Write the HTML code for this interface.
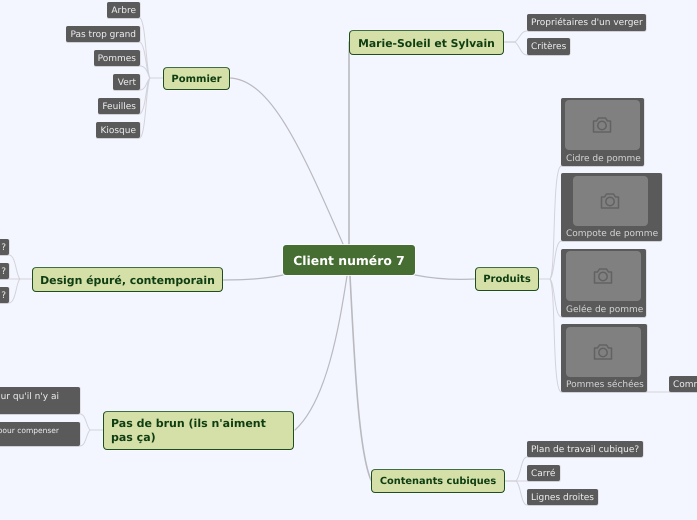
<!DOCTYPE html>
<html lang="fr"><head><meta charset="utf-8"><style>
html,body{margin:0;padding:0}
body{width:697px;height:520px;background:#f4f6ff;position:relative;overflow:hidden;font-family:"DejaVu Sans",sans-serif;text-rendering:geometricPrecision}
svg.l{position:absolute;left:0;top:0}
.n{position:absolute;box-sizing:border-box;white-space:nowrap}
.g{background:#d5dfa8;border:1px solid #1e4d1e;border-top-color:#3f6d45;border-radius:4px;color:#0e3d12;font-weight:bold;font-size:10px;line-height:14px;text-align:center;box-shadow:0 0 0 1px rgba(255,255,255,.2)}
.s{background:#5a5a5a;color:#ececec;font-size:9px;height:16px;line-height:18px;border-radius:2px;box-shadow:0 1px 0 #d0d0d8,1px 0 0 #e0e0e6;text-align:right;padding-right:4px}
.sr{text-align:left;padding:0 0 0 4px}
.i{background:#5a5a5a;border-radius:2px;box-shadow:0 1px 0 #d0d0d8,1px 0 0 #e0e0e6}
.p{position:absolute;background:#808080;border-radius:4px;width:75px;height:50px;top:2px}
.p svg{position:absolute;left:27px;top:15px}
.c{position:absolute;left:5px;bottom:0;color:#d4d4d4;font-size:9px;line-height:14px}
</style></head><body>
<svg class="l" width="697" height="520" fill="none" stroke-linecap="round">
<g stroke="#b9b9bf">
<path d="M230 78 C270 80 300 145 343 244" stroke-width="1.2"/>
<path d="M349 244 L349 42" stroke-width="1.6"/>
<path d="M283 275 C265 279 245 280 223 280" stroke-width="1.2"/>
<path d="M415 275 C435 279 455 280 475 279" stroke-width="1.2"/>
<path d="M347 276 C340 320 328 400 295 430" stroke-width="1.2"/>
<path d="M350 276 C354 350 358 450 371 480" stroke-width="1.6"/>
</g>
<g stroke="#d2d2da" stroke-width="1">
<path d="M163 78 L150 78"/>
<path d="M150 78 C146 72 146 22 140 18"/>
<path d="M150 78 C146 74 146 46 140 42"/>
<path d="M150 78 C147 72 146 66 140 66"/>
<path d="M150 78 C147 80 146 90 140 90"/>
<path d="M150 78 C146 82 146 110 140 114"/>
<path d="M150 78 C146 84 146 134 140 138"/>
<path d="M32 279 L20 279"/>
<path d="M20 279 C16 276 16 255 9 255"/>
<path d="M20 279 L9 279"/>
<path d="M20 279 C16 282 16 303 9 303"/>
<path d="M103 430 L90 430"/>
<path d="M90 430 C86 426 86 414 80 414"/>
<path d="M90 430 C86 434 86 446 80 446"/>
<path d="M504 42 L515 42" stroke-width="1.6"/>
<path d="M515 42 C520 38 521 31 527 31"/>
<path d="M515 42 C520 46 521 55 527 55"/>
<path d="M539 279 L550 279"/>
<path d="M550 279 C556 270 552 170 561 166"/>
<path d="M550 279 C555 274 554 243 561 241"/>
<path d="M550 279 C555 284 554 315 561 317"/>
<path d="M550 279 C556 290 552 388 561 392"/>
<path d="M647 392 L669 392"/>
<path d="M505 481 L516 481" stroke-width="1.6"/>
<path d="M516 481 C521 476 521 457 527 457"/>
<path d="M516 481 L560 481"/>
<path d="M516 481 C521 485 521 505 527 505"/>
</g>
</svg>

<div class="n" style="left:283px;top:245px;width:132px;height:30px;background:#466e32;border-radius:3px;color:#fff;font-weight:bold;font-size:12.4px;line-height:31px;text-align:center;box-shadow:0 0 0 1px rgba(255,255,255,.6)">Client numéro 7</div>

<div class="n g" style="left:163px;top:67px;width:67px;height:23px;line-height:23px">Pommier</div>
<div class="n g" style="left:32px;top:267px;width:191px;height:25px;line-height:25px;font-size:10.9px">Design épuré, contemporain</div>
<div class="n g" style="left:103px;top:411px;width:191px;height:39px;text-align:left;padding:5px 7px;font-size:11px;white-space:normal">Pas de brun (ils n'aiment pas ça)</div>
<div class="n g" style="left:349px;top:30px;width:155px;height:25px;line-height:25px;font-size:10.8px">Marie-Soleil et Sylvain</div>
<div class="n g" style="left:475px;top:267px;width:64px;height:24px;line-height:24px">Produits</div>
<div class="n g" style="left:371px;top:469px;width:134px;height:24px;line-height:24px;font-size:9.8px">Contenants cubiques</div>

<div class="n s" style="left:107px;top:2px;width:33px">Arbre</div>
<div class="n s" style="left:66px;top:26px;width:74px">Pas trop grand</div>
<div class="n s" style="left:94px;top:50px;width:46px">Pommes</div>
<div class="n s" style="left:113px;top:74px;width:27px">Vert</div>
<div class="n s" style="left:98px;top:98px;width:42px">Feuilles</div>
<div class="n s" style="left:96px;top:122px;width:44px">Kiosque</div>

<div class="n s" style="left:-6px;top:239px;width:15px;padding-right:3px">?</div>
<div class="n s" style="left:-6px;top:263px;width:15px;padding-right:3px">?</div>
<div class="n s" style="left:-6px;top:287px;width:15px;padding-right:3px">?</div>

<div class="n s" style="left:-6px;top:387px;width:86px;height:27px;overflow:hidden;line-height:20px"><span style="position:absolute;right:21px;top:0">ur qu'il n'y ai</span></div>
<div class="n s" style="left:-6px;top:422px;width:86px;height:24px;overflow:hidden;font-size:7.5px;line-height:18px"><span style="position:absolute;right:21px;top:0">pour compenser</span></div>

<div class="n s sr" style="left:527px;top:14px;width:119px;height:17px">Propriétaires d'un verger</div>
<div class="n s sr" style="left:527px;top:38px;width:43px;height:17px">Critères</div>
<div class="n s sr" style="left:527px;top:441px;width:116px">Plan de travail cubique?</div>
<div class="n s sr" style="left:527px;top:465px;width:33px">Carré</div>
<div class="n s sr" style="left:527px;top:489px;width:71px">Lignes droites</div>
<div class="n s sr" style="left:669px;top:376px;width:40px">Comm</div>

<div class="n i" style="left:561px;top:98px;width:83px;height:68px"><div class="p" style="left:4px"><svg width="20" height="20" viewBox="0 0 20 20" fill="none" stroke="#626262" stroke-width="1.5"><path d="M1.5 6h3l2-3h7l2 3h3v11h-17z" stroke-linejoin="round"/><circle cx="10" cy="10.5" r="4.2"/></svg></div><div class="c">Cidre de pomme</div></div>
<div class="n i" style="left:561px;top:173px;width:101px;height:68px"><div class="p" style="left:12px;top:3px"><svg width="20" height="20" viewBox="0 0 20 20" fill="none" stroke="#626262" stroke-width="1.5"><path d="M1.5 6h3l2-3h7l2 3h3v11h-17z" stroke-linejoin="round"/><circle cx="10" cy="10.5" r="4.2"/></svg></div><div class="c">Compote de pomme</div></div>
<div class="n i" style="left:561px;top:249px;width:85px;height:68px"><div class="p" style="left:5px"><svg width="20" height="20" viewBox="0 0 20 20" fill="none" stroke="#626262" stroke-width="1.5"><path d="M1.5 6h3l2-3h7l2 3h3v11h-17z" stroke-linejoin="round"/><circle cx="10" cy="10.5" r="4.2"/></svg></div><div class="c">Gelée de pomme</div></div>
<div class="n i" style="left:561px;top:324px;width:86px;height:68px"><div class="p" style="left:5px;top:3px"><svg width="20" height="20" viewBox="0 0 20 20" fill="none" stroke="#626262" stroke-width="1.5"><path d="M1.5 6h3l2-3h7l2 3h3v11h-17z" stroke-linejoin="round"/><circle cx="10" cy="10.5" r="4.2"/></svg></div><div class="c">Pommes séchées</div></div>
</body></html>
